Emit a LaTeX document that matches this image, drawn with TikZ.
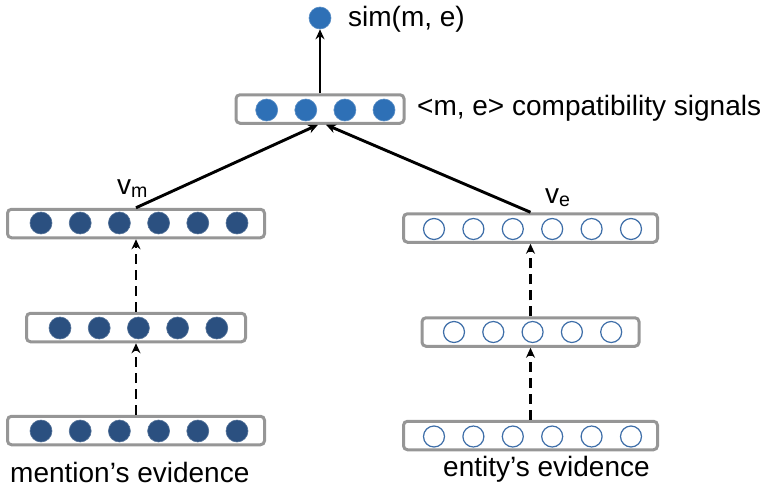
\documentclass[tikz,border=0pt]{standalone}
\usepackage{fontspec}
\setmainfont{Liberation Sans}
\usetikzlibrary{arrows.meta, positioning}
\definecolor{mentionblue}{RGB}{43,80,128}
\definecolor{signalblue}{RGB}{46,112,182}
\definecolor{entityblue}{RGB}{62,110,168}
\definecolor{boxgray}{RGB}{150,150,150}

\begin{document}
\begin{tikzpicture}[x=1pt, y=-1pt, >={Stealth[length=10pt, width=9pt]},
    layer/.style={draw=boxgray, line width=3pt, rounded corners=4pt, fill=white,
        inner sep=0pt, minimum height=28.5pt},
    fullunit/.style={circle, inner sep=0pt, minimum size=22pt, fill=#1, draw=#1!80!white, line width=0.6pt},
    openunit/.style={circle, inner sep=0pt, minimum size=21pt, draw=entityblue, line width=1.2pt, fill=white},
    txt/.style={font=\fontsize{28}{33}\selectfont, inner sep=0pt},
    link/.style={line width=2.9pt, ->},
    dashlink/.style={link, dash pattern=on 10pt off 6pt}]

    \useasboundingbox (0,0) rectangle (766,493);

    % layers
    \node[layer, minimum width=257pt] (mtop) at (136, 223.5) {};
    \node[layer, minimum width=219pt] (mmid) at (136, 327.5) {};
    \node[layer, minimum width=257pt] (mbot) at (136, 430.5) {};
    \node[layer, minimum width=254pt] (etop) at (530.5, 228) {};
    \node[layer, minimum width=217pt] (emid) at (530.5, 332) {};
    \node[layer, minimum width=254pt] (ebot) at (530.5, 435.5) {};
    \node[layer, minimum width=168pt] (sig) at (320, 109) {};

    % units
    \foreach \i in {0,...,5} {
        \node[fullunit=mentionblue] (mt\i) at (41+39.2*\i, 223) {};
        \node[fullunit=mentionblue] (mb\i) at (41+39.2*\i, 431) {};
        \node[openunit] (et\i) at (434+39.4*\i, 229) {};
        \node[openunit] (eb\i) at (434+39.4*\i, 436.5) {};
    }
    \foreach \i in {0,...,4} {
        \node[fullunit=mentionblue] (mm\i) at (60+39.2*\i, 328) {};
        \node[openunit] (em\i) at (454+39.3*\i, 332) {};
    }
    \foreach \i in {0,...,3}
        \node[fullunit=signalblue] (s\i) at (266.7+39.1*\i, 110) {};

    \node[fullunit=signalblue] (sim) at (320, 18) {};

    % connectors
    \draw[dashlink] (mbot.north) -- (mmid.south);
    \draw[dashlink] (mmid.north) -- (mtop.south);
    \draw[dashlink] (ebot.north) -- (emid.south);
    \draw[dashlink] (emid.north) -- (etop.south);
    \draw[link] (mtop.north) -- ([xshift=-2pt]sig.south);
    \draw[link] (etop.north) -- ([xshift=6pt]sig.south);
    \draw[link] (sig.north) -- (sim.south);

    % labels
    \node[txt, anchor=base west] (simlabel) at (348, 26) {sim(m, e)};
    \node[txt, anchor=base west] (siglabel) at (417, 115) {<m, e> compatibility signals};
    \node[txt, anchor=base west] (vm) at (117, 194) {v\textsubscript{m}};
    \node[txt, anchor=base west] (ve) at (545, 203) {v\textsubscript{e}};
    \node[txt, anchor=base west] (mlabel) at (10, 482) {mention’s evidence};
    \node[txt, anchor=base west] (elabel) at (443, 476) {entity’s evidence};

\end{tikzpicture}
\end{document}
